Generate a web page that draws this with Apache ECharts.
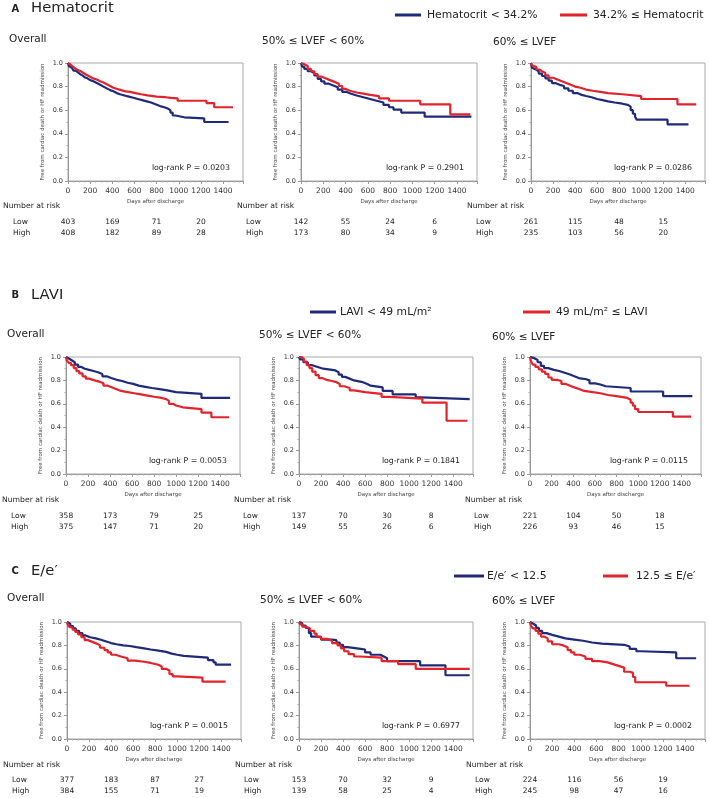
<!DOCTYPE html>
<html><head><meta charset="utf-8">
<script src="https://cdn.jsdelivr.net/npm/echarts@6/dist/echarts.min.js"></script>
<style>html,body{margin:0;padding:0;background:#fff}#c{width:709px;height:798px}</style>
</head><body><div id="c"></div>
<script>
// ---------- DATA ----------
const riskDays = [0, 400, 800, 1200];
const xTicks = [0, 200, 400, 600, 800, 1000, 1200, 1400];

// Hematocrit
const hctAllLow = [[0,1],[8,0.975],[20,0.96],[35,0.95],[50,0.935],[70,0.92],[90,0.905],[110,0.895],[130,0.88],[150,0.87],[175,0.855],[200,0.845],[230,0.83],[260,0.815],[290,0.80],[320,0.785],[350,0.77],[380,0.76],[410,0.745],[440,0.735],[470,0.725],[510,0.715],[550,0.705],[590,0.695],[630,0.685],[670,0.675],[710,0.665],[750,0.65],[790,0.635],[830,0.625],[870,0.615],[900,0.60],[925,0.58],[945,0.555],[970,0.54],[1050,0.53],[1230,0.50],[1450,0.50]];
const hctAllHigh = [[0,1],[8,0.985],[25,0.97],[45,0.955],[65,0.94],[90,0.93],[115,0.915],[140,0.90],[165,0.885],[195,0.87],[225,0.86],[260,0.845],[290,0.835],[320,0.82],[350,0.805],[380,0.79],[410,0.78],[445,0.77],[480,0.76],[520,0.755],[560,0.745],[610,0.735],[660,0.725],[720,0.715],[800,0.71],[880,0.705],[930,0.70],[990,0.68],[1250,0.66],[1320,0.625],[1490,0.625]];
const hctMidLow = [[0,1],[10,0.97],[30,0.95],[60,0.93],[90,0.915],[120,0.895],[150,0.865],[180,0.845],[210,0.825],[250,0.81],[290,0.795],[330,0.775],[370,0.755],[410,0.74],[450,0.725],[500,0.71],[560,0.695],[620,0.68],[680,0.665],[740,0.645],[790,0.625],[830,0.605],[900,0.58],[1110,0.545],[1530,0.545]];
const hctMidHigh = [[0,1],[10,0.99],[30,0.975],[60,0.95],[90,0.93],[120,0.905],[150,0.885],[180,0.87],[220,0.855],[260,0.84],[300,0.825],[340,0.805],[370,0.78],[400,0.765],[440,0.75],[500,0.74],[560,0.73],[620,0.72],[700,0.70],[790,0.68],[1070,0.65],[1340,0.565],[1520,0.565]];
const hctPresLow = [[0,1],[8,0.96],[25,0.945],[45,0.93],[70,0.91],[100,0.89],[130,0.87],[160,0.85],[190,0.83],[220,0.815],[260,0.805],[300,0.785],[340,0.765],[380,0.745],[420,0.73],[460,0.72],[500,0.71],[550,0.695],[600,0.685],[650,0.675],[700,0.665],[760,0.655],[830,0.645],[880,0.63],[905,0.60],[925,0.57],[945,0.545],[960,0.52],[1240,0.48],[1430,0.48]];
const hctPresHigh = [[0,1],[8,0.98],[25,0.965],[50,0.945],[75,0.93],[100,0.915],[130,0.895],[160,0.875],[200,0.86],[240,0.845],[280,0.83],[320,0.815],[360,0.80],[400,0.79],[450,0.775],[500,0.765],[560,0.755],[630,0.745],[700,0.735],[830,0.72],[1000,0.695],[1330,0.65],[1500,0.65]];

// LAVI
const laviAllLow = [[0,1],[10,0.985],[30,0.97],[55,0.955],[80,0.935],[110,0.915],[140,0.90],[170,0.89],[210,0.88],[250,0.87],[290,0.855],[330,0.835],[370,0.82],[410,0.805],[460,0.795],[510,0.78],[560,0.77],[610,0.755],[660,0.745],[720,0.735],[780,0.725],[850,0.715],[920,0.70],[1000,0.685],[1230,0.65],[1490,0.65]];
const laviAllHigh = [[0,1],[8,0.97],[25,0.95],[45,0.93],[70,0.905],[95,0.88],[120,0.86],[150,0.835],[180,0.815],[210,0.80],[260,0.79],[300,0.775],[340,0.755],[380,0.74],[420,0.725],[460,0.71],[500,0.70],[560,0.69],[620,0.68],[680,0.67],[740,0.66],[800,0.65],[870,0.64],[910,0.625],[935,0.60],[970,0.585],[1000,0.57],[1060,0.555],[1230,0.525],[1320,0.485],[1480,0.485]];
const laviMidLow = [[0,1],[10,0.98],[40,0.955],[80,0.93],[120,0.915],[170,0.90],[220,0.89],[300,0.885],[330,0.87],[360,0.85],[390,0.83],[420,0.815],[460,0.80],[500,0.785],[580,0.77],[620,0.755],[650,0.74],[760,0.71],[850,0.68],[1060,0.655],[1110,0.64],[1550,0.64]];
const laviMidHigh = [[0,1],[25,0.985],[45,0.96],[70,0.93],[95,0.905],[120,0.875],[150,0.845],[180,0.82],[210,0.805],[250,0.795],[300,0.785],[340,0.77],[370,0.75],[410,0.735],[460,0.715],[500,0.70],[600,0.685],[750,0.66],[820,0.645],[1120,0.61],[1340,0.455],[1530,0.455]];
const laviPresLow = [[0,1],[10,0.99],[40,0.975],[70,0.955],[100,0.925],[130,0.905],[170,0.89],[220,0.88],[270,0.865],[320,0.85],[370,0.835],[410,0.82],[450,0.81],[520,0.80],[550,0.775],[600,0.765],[650,0.75],[700,0.735],[930,0.705],[1230,0.665],[1500,0.665]];
const laviPresHigh = [[0,1],[8,0.965],[25,0.935],[50,0.915],[80,0.895],[110,0.875],[140,0.855],[170,0.825],[200,0.805],[250,0.795],[290,0.77],[330,0.755],[370,0.74],[410,0.725],[460,0.71],[500,0.70],[580,0.69],[650,0.675],[720,0.665],[800,0.65],[900,0.635],[930,0.61],[950,0.585],[970,0.555],[1000,0.53],[1320,0.49],[1490,0.49]];

// E/e'
const eeAllLow = [[0,1],[10,0.985],[30,0.965],[55,0.945],[80,0.925],[110,0.905],[140,0.885],[170,0.87],[210,0.86],[260,0.85],[300,0.835],[350,0.82],[400,0.81],[450,0.80],[510,0.795],[570,0.785],[630,0.775],[700,0.765],[760,0.755],[830,0.745],[900,0.73],[950,0.72],[1000,0.71],[1060,0.695],[1280,0.675],[1330,0.655],[1350,0.635],[1490,0.635]];
const eeAllHigh = [[0,1],[8,0.975],[25,0.955],[50,0.935],[75,0.915],[100,0.895],[130,0.87],[160,0.845],[190,0.83],[230,0.815],[270,0.80],[300,0.78],[340,0.76],[370,0.74],[400,0.72],[440,0.705],[490,0.69],[550,0.67],[620,0.66],[700,0.65],[760,0.635],[830,0.62],[860,0.60],[900,0.585],[930,0.555],[960,0.535],[1000,0.525],[1230,0.49],[1440,0.49]];
const eeMidLow = [[0,1],[10,0.99],[30,0.97],[60,0.95],[90,0.905],[110,0.875],[150,0.87],[200,0.85],[300,0.845],[340,0.825],[370,0.805],[400,0.785],[440,0.77],[560,0.765],[600,0.74],[650,0.72],[740,0.705],[770,0.69],[800,0.665],[1100,0.63],[1330,0.545],[1550,0.545]];
const eeMidHigh = [[0,1],[10,0.98],[30,0.96],[60,0.945],[100,0.925],[140,0.90],[160,0.875],[200,0.855],[260,0.84],[300,0.82],[350,0.80],[380,0.775],[410,0.75],[450,0.725],[500,0.705],[550,0.695],[750,0.665],[900,0.64],[1060,0.60],[1550,0.60]];
const eePresLow = [[0,1],[10,0.985],[30,0.97],[55,0.95],[80,0.925],[110,0.905],[150,0.89],[200,0.875],[260,0.86],[320,0.85],[400,0.84],[480,0.825],[560,0.815],[650,0.805],[850,0.79],[900,0.77],[960,0.75],[1000,0.74],[1320,0.69],[1500,0.69]];
const eePresHigh = [[0,1],[8,0.97],[25,0.945],[50,0.925],[75,0.90],[100,0.875],[130,0.86],[160,0.835],[200,0.81],[260,0.80],[300,0.785],[340,0.76],[370,0.74],[400,0.72],[450,0.705],[500,0.685],[560,0.665],[630,0.655],[700,0.64],[750,0.625],[800,0.61],[850,0.575],[900,0.565],[930,0.53],[950,0.485],[1230,0.455],[1440,0.455]];

// Number at risk
const riskHctAllLow = [403,169,71,20], riskHctAllHigh = [408,182,89,28];
const riskHctMidLow = [142,55,24,6], riskHctMidHigh = [173,80,34,9];
const riskHctPresLow = [261,115,48,15], riskHctPresHigh = [235,103,56,20];
const riskLaviAllLow = [358,173,79,25], riskLaviAllHigh = [375,147,71,20];
const riskLaviMidLow = [137,70,30,8], riskLaviMidHigh = [149,55,26,6];
const riskLaviPresLow = [221,104,50,18], riskLaviPresHigh = [226,93,46,15];
const riskEeAllLow = [377,183,87,27], riskEeAllHigh = [384,155,71,19];
const riskEeMidLow = [153,70,32,9], riskEeMidHigh = [139,58,25,4];
const riskEePresLow = [224,116,56,19], riskEePresHigh = [245,98,47,16];

const pValues = ['0.0203','0.2901','0.0286','0.0053','0.1841','0.0115','0.0015','0.6977','0.0002'];
const subtitles = ['Overall', '50% \u2264 LVEF < 60%', '60% \u2264 LVEF'];
const sectionLetters = ['A', 'B', 'C'];
const sectionTitles = ['Hematocrit', 'LAVI', 'E/e\u2032'];
const legendLow = ['Hematocrit < 34.2%', 'LAVI < 49 mL/m\u00b2', 'E/e\u2032 < 12.5'];
const legendHigh = ['34.2% \u2264 Hematocrit', '49 mL/m\u00b2 \u2264 LAVI', '12.5 \u2264 E/e\u2032'];

// ---------- LAYOUT ----------
const FONT = 'DejaVu Sans';
const BLUE = '#1f2a7a', RED = '#e3232b', TXT = '#222';
const panels = [
  {low: hctAllLow, high: hctAllHigh, rl: riskHctAllLow, rh: riskHctAllHigh},
  {low: hctMidLow, high: hctMidHigh, rl: riskHctMidLow, rh: riskHctMidHigh},
  {low: hctPresLow, high: hctPresHigh, rl: riskHctPresLow, rh: riskHctPresHigh},
  {low: laviAllLow, high: laviAllHigh, rl: riskLaviAllLow, rh: riskLaviAllHigh},
  {low: laviMidLow, high: laviMidHigh, rl: riskLaviMidLow, rh: riskLaviMidHigh},
  {low: laviPresLow, high: laviPresHigh, rl: riskLaviPresLow, rh: riskLaviPresHigh},
  {low: eeAllLow, high: eeAllHigh, rl: riskEeAllLow, rh: riskEeAllHigh},
  {low: eeMidLow, high: eeMidHigh, rl: riskEeMidLow, rh: riskEeMidHigh},
  {low: eePresLow, high: eePresHigh, rl: riskEePresLow, rh: riskEePresHigh}
];
const gridBoxes = [
  {left:68, top:63, width:175, height:118},
  {left:301, top:63, width:176, height:118},
  {left:531, top:63, width:174, height:118},
  {left:66, top:357, width:174, height:117},
  {left:299, top:357, width:174, height:117},
  {left:530, top:357, width:171, height:117},
  {left:67, top:622, width:174, height:117},
  {left:299, top:622, width:174, height:117},
  {left:530, top:622, width:175, height:117}
];
const rowLayout = [
  {letterY:9.5, titleY:8.5, legY:15, subY:[39,41.5,42.5], subX:[9,262,493],
   legBlue:[395,421,427], legRed:[560,587,593],
   nar:{y:206, x:[3,237,467]}, low:{y:222, x:[13,246,476]}, high:{y:233}},
  {letterY:295.5, titleY:295, legY:312, subY:[334,335.5,337], subX:[7,259,492],
   legBlue:[310,336,340], legRed:[523,550,556],
   nar:{y:500.5, x:[2,234,465]}, low:{y:516, x:[11,243,474]}, high:{y:527}},
  {letterY:571.5, titleY:571, legY:576, subY:[598.5,600,601], subX:[7,260,492],
   legBlue:[454,484,487], legRed:[603,628,636],
   nar:{y:765, x:[3,235,466]}, low:{y:780, x:[12,244,475]}, high:{y:791}}
];

function txt(x, y, text, size, opts) {
  opts = opts || {};
  return {type:'text', x:x, y:y, silent:true, z:100,
    style:{text:text, fontSize:size, fontFamily:FONT, fontWeight:opts.bold?'bold':'normal',
      fill:opts.fill||TXT, align:opts.align||'left', verticalAlign:'middle'}};
}

const chart = echarts.init(document.getElementById('c'), null, {renderer:'canvas'});
const grids = [], xAxes = [], yAxes = [], series = [];
gridBoxes.forEach((g, i) => {
  grids.push({left:g.left, top:g.top, width:g.width, height:g.height, show:true,
    borderColor:'#aaa', borderWidth:1, backgroundColor:'transparent', containLabel:false});
  xAxes.push({gridIndex:i, type:'value', min:0, max:1580, interval:200,
    name:'Days after discharge', nameLocation:'middle', nameGap:17.5,
    nameTextStyle:{fontSize:5.5, fontFamily:FONT, color:'#444'},
    axisLine:{show:true, lineStyle:{color:'#999', width:1}},
    axisTick:{show:true, length:3, lineStyle:{color:'#999'}},
    minorTick:{show:true, splitNumber:4, length:1.5, lineStyle:{color:'#aaa'}},
    axisLabel:{fontSize:7.5, fontFamily:FONT, color:'#333', margin:6, showMaxLabel:false,
      formatter: v => xTicks.indexOf(v) >= 0 ? String(v) : ''},
    splitLine:{show:false}});
  yAxes.push({gridIndex:i, type:'value', min:0, max:1, interval:0.2,
    name:'Free from cardiac death or HF readmission', nameLocation:'middle', nameGap:22, nameRotate:90,
    nameTextStyle:{fontSize:5.5, fontFamily:FONT, color:'#444'},
    axisLine:{show:true, lineStyle:{color:'#999', width:1}},
    axisTick:{show:true, length:3, lineStyle:{color:'#999'}},
    minorTick:{show:true, splitNumber:2, length:1.5, lineStyle:{color:'#aaa'}},
    axisLabel:{fontSize:6.5, fontFamily:FONT, color:'#333', margin:5, formatter: v => v.toFixed(1)},
    splitLine:{show:false}});
  const p = panels[i];
  series.push({type:'line', xAxisIndex:i, yAxisIndex:i, data:p.low, step:'end', showSymbol:false,
    lineStyle:{color:BLUE, width:2.2}, itemStyle:{color:BLUE}, silent:true, z:2});
  series.push({type:'line', xAxisIndex:i, yAxisIndex:i, data:p.high, step:'end', showSymbol:false,
    lineStyle:{color:RED, width:2.2}, itemStyle:{color:RED}, silent:true, z:3});
});

const graphics = [];
rowLayout.forEach((r, ri) => {
  graphics.push(txt(11.5, r.letterY, sectionLetters[ri], 10, {bold:true}));
  graphics.push(txt(31, r.titleY, sectionTitles[ri], 14.8));
  graphics.push({type:'line', silent:true, shape:{x1:r.legBlue[0], y1:r.legY, x2:r.legBlue[1], y2:r.legY},
    style:{stroke:BLUE, lineWidth:3}});
  graphics.push(txt(r.legBlue[2], r.legY, legendLow[ri], 10.8));
  graphics.push({type:'line', silent:true, shape:{x1:r.legRed[0], y1:r.legY, x2:r.legRed[1], y2:r.legY},
    style:{stroke:RED, lineWidth:3}});
  graphics.push(txt(r.legRed[2], r.legY, legendHigh[ri], 10.8));
  for (let c = 0; c < 3; c++) {
    graphics.push(txt(r.subX[c], r.subY[c], subtitles[c], 10.5));
    graphics.push(txt(r.nar.x[c], r.nar.y, 'Number at risk', 7.7));
    graphics.push(txt(r.low.x[c], r.low.y, 'Low', 7.5));
    graphics.push(txt(r.low.x[c], r.high.y, 'High', 7.5));
    const gi = ri * 3 + c, g = gridBoxes[gi];
    graphics.push(txt(g.left + g.width - 13, g.top + g.height - 13.5, 'log-rank P = ' + pValues[gi], 7.8, {align:'right'}));
  }
});

chart.setOption({animation:false, backgroundColor:'#fff', grid:grids, xAxis:xAxes, yAxis:yAxes, series:series, graphic:graphics});

// risk numbers placed through the x-axis scale
const riskGraphics = graphics.slice();
rowLayout.forEach((r, ri) => {
  for (let c = 0; c < 3; c++) {
    const gi = ri * 3 + c, p = panels[gi];
    riskDays.forEach((d, k) => {
      const px = chart.convertToPixel({gridIndex:gi}, [d, 0])[0];
      riskGraphics.push(txt(px, r.low.y, String(p.rl[k]), 7.5, {align:'center'}));
      riskGraphics.push(txt(px, r.high.y, String(p.rh[k]), 7.5, {align:'center'}));
    });
  }
});
chart.setOption({graphic:riskGraphics});
</script></body></html>
